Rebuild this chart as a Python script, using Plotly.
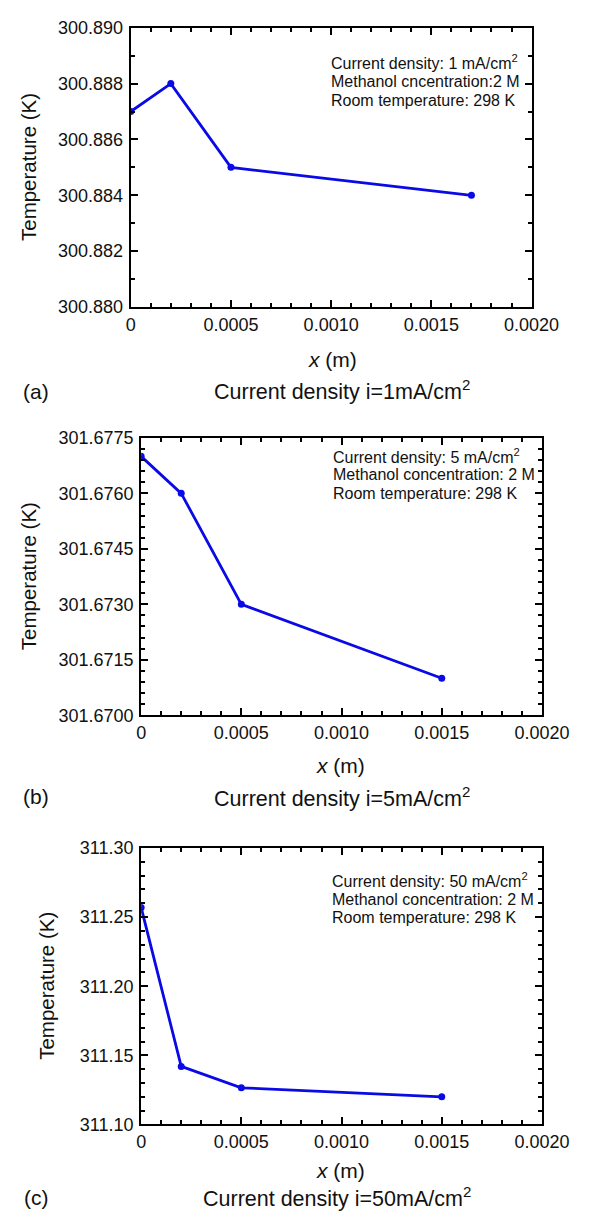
import plotly.graph_objects as go

# ---- data ----
x_a = [0.0, 0.0002, 0.0005, 0.0017]
t_a = [300.887, 300.888, 300.885, 300.884]
x_b = [0.0, 0.0002, 0.0005, 0.0015]
t_b = [301.6770, 301.6760, 301.6730, 301.6710]
x_c = [0.0, 0.0002, 0.0005, 0.0015]
t_c = [311.257, 311.142, 311.1265, 311.120]

x_tickvals = [0, 0.0005, 0.0010, 0.0015, 0.0020]
x_ticktext = ["0", "0.0005", "0.0010", "0.0015", "0.0020"]
y_ticks_a = [300.880, 300.882, 300.884, 300.886, 300.888, 300.890]
y_ticks_b = [301.6700, 301.6715, 301.6730, 301.6745, 301.6760, 301.6775]
y_ticks_c = [311.10, 311.15, 311.20, 311.25, 311.30]

info_a = ["Current density: 1 mA/cm<sup>2</sup>", "Methanol cncentration:2 M", "Room temperature: 298 K"]
info_b = ["Current density: 5 mA/cm<sup>2</sup>", "Methanol concentration: 2 M", "Room temperature: 298 K"]
info_c = ["Current density: 50 mA/cm<sup>2</sup>", "Methanol concentration: 2 M", "Room temperature: 298 K"]
captions = ["Current density i=1mA/cm<sup>2</sup>", "Current density i=5mA/cm<sup>2</sup>",
            "Current density i=50mA/cm<sup>2</sup>"]
labels = ["(a)", "(b)", "(c)"]

W, H = 604, 1220
FONT = "Liberation Sans, Arial, Helvetica, sans-serif"
BLUE = "#0a0ae6"

def px(x):
    return x / W

def py(y):
    return 1 - y / H

panels = [
    dict(x=x_a, y=t_a, yt=y_ticks_a, fmt=".3f", ydt=0.001, left=133, right=557, top=18, bottom=302,
         info=info_a, info_x=343, info_y=[53, 73, 92], ytitle_x=25, xtitle=(346, 355), cap=(356, 386), lab=(33, 388)),
    dict(x=x_b, y=t_b, yt=y_ticks_b, fmt=".4f", ydt=0.0003, left=144, right=568, top=435, bottom=717,
         info=info_b, info_x=345, info_y=[453, 472, 492], ytitle_x=25, xtitle=(355, 768), cap=(356, 800), lab=(33, 800)),
    dict(x=x_c, y=t_c, yt=y_ticks_c, fmt=".2f", ydt=0.01, left=144, right=568, top=852, bottom=1133,
         info=info_c, info_x=344, info_y=[885, 904, 923], ytitle_x=44, xtitle=(355, 1180), cap=(351, 1207), lab=(33, 1207)),
]

fig = go.Figure()
annotations = []
layout = {}
for i, p in enumerate(panels):
    n = "" if i == 0 else str(i + 1)
    fig.add_trace(go.Scatter(x=p["x"], y=p["y"], mode="lines+markers",
                             line=dict(color=BLUE, width=2.8),
                             marker=dict(color=BLUE, size=7),
                             xaxis="x" + n, yaxis="y" + n, showlegend=False))
    layout["xaxis" + n] = dict(
        domain=[px(p["left"]), px(p["right"])], anchor="y" + n, range=[0, 0.002],
        tickvals=x_tickvals, ticktext=x_ticktext, ticks="inside", ticklen=7, tickwidth=2,
        tickcolor="black", showline=True, linecolor="black", linewidth=2, mirror="allticks",
        showgrid=False, zeroline=False, tickfont=dict(family=FONT, size=18, color="#111"),
        minor=dict(dtick=0.0001, tick0=0, ticks="inside", ticklen=4, tickwidth=2, tickcolor="black", showgrid=False),
        fixedrange=True,
    )
    layout["yaxis" + n] = dict(
        domain=[py(p["bottom"]), py(p["top"])], anchor="x" + n,
        range=[p["yt"][0], p["yt"][-1]], tickvals=p["yt"], tickformat=p["fmt"],
        ticks="inside", ticklen=7, tickwidth=2, tickcolor="black", showline=True,
        linecolor="black", linewidth=2, mirror="allticks", showgrid=False, zeroline=False,
        tickfont=dict(family=FONT, size=18, color="#111"), ticklabelstandoff=2,
        minor=dict(dtick=p["ydt"], tick0=p["yt"][0], ticks="inside", ticklen=4, tickwidth=2, tickcolor="black", showgrid=False),
        fixedrange=True,
    )
    for line, yy in zip(p["info"], p["info_y"]):
        annotations.append(dict(text=line, x=px(p["info_x"]), y=py(yy), xref="paper", yref="paper",
                                xanchor="left", yanchor="middle", showarrow=False,
                                font=dict(family=FONT, size=16, color="#111")))
    annotations.append(dict(text="Temperature (K)", x=px(p["ytitle_x"]), y=py((p["top"] + p["bottom"]) / 2),
                            xref="paper", yref="paper", textangle=-90, showarrow=False,
                            xanchor="center", yanchor="middle",
                            font=dict(family=FONT, size=20.5, color="#111")))
    annotations.append(dict(text="<i>x</i> (m)", x=px(p["xtitle"][0]), y=py(p["xtitle"][1]),
                            xref="paper", yref="paper", showarrow=False, xanchor="center", yanchor="middle",
                            font=dict(family=FONT, size=21, color="#111")))
    annotations.append(dict(text=captions[i], x=px(p["cap"][0]), y=py(p["cap"][1]),
                            xref="paper", yref="paper", showarrow=False, xanchor="center", yanchor="middle",
                            font=dict(family=FONT, size=21.5, color="#111")))
    annotations.append(dict(text=labels[i], x=px(p["lab"][0]), y=py(p["lab"][1]),
                            xref="paper", yref="paper", showarrow=False, xanchor="center", yanchor="middle",
                            font=dict(family=FONT, size=21, color="#111")))

fig.update_layout(**layout)
fig.update_layout(width=W, height=H, margin=dict(l=0, r=0, t=0, b=0),
                  paper_bgcolor="white", plot_bgcolor="white", annotations=annotations)
fig.write_html("out.html", config={"displayModeBar": False})
